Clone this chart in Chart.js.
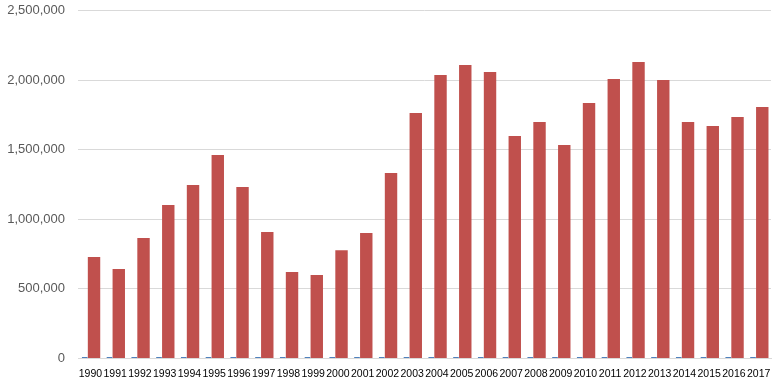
<!DOCTYPE html>
<html>
<head>
<meta charset="utf-8">
<script src="https://cdn.jsdelivr.net/npm/chart.js@4/dist/chart.umd.min.js"></script>
<style>
  html, body { margin: 0; padding: 0; background: #fff; }
  #wrap { width: 775px; height: 384px; }
</style>
</head>
<body>
<div id="wrap"><canvas id="chart"></canvas></div>
<script>
const years = ['1990', '1991', '1992', '1993', '1994', '1995', '1996', '1997', '1998', '1999',
  '2000', '2001', '2002', '2003', '2004', '2005', '2006', '2007', '2008', '2009',
  '2010', '2011', '2012', '2013', '2014', '2015', '2016', '2017'];

const smallSeries = [10000, 10000, 10000, 10000, 10000, 10000, 10000, 10000, 10000, 10000,
  10000, 10000, 10000, 10000, 10000, 10000, 10000, 10000, 10000, 10000,
  10000, 10000, 10000, 10000, 10000, 10000, 10000, 10000];

const mainSeries = [729000, 643000, 866000, 1103000, 1246000, 1462000, 1232000, 909000, 621000, 600000,
  778000, 902000, 1333000, 1764000, 2037000, 2108000, 2058000, 1598000, 1699000, 1534000,
  1835000, 2008000, 2130000, 2001000, 1699000, 1670000, 1735000, 1807000];

const yTicks = [0, 500000, 1000000, 1500000, 2000000, 2500000];

const fmt = v => v.toLocaleString('en-US');

new Chart(document.getElementById('chart').getContext('2d'), {
  type: 'bar',
  data: {
    labels: years,
    datasets: [
      {
        label: 'Series 1',
        data: smallSeries,
        backgroundColor: '#4F81BD',
        categoryPercentage: 0.909,
        barPercentage: 0.5
      },
      {
        label: 'Series 2',
        data: mainSeries,
        backgroundColor: '#C0504D',
        categoryPercentage: 0.59,
        barPercentage: 1.7
      }
    ]
  },
  options: {
    responsive: true,
    maintainAspectRatio: false,
    animation: false,
    layout: { padding: { left: 0, right: 4, top: 10.5, bottom: 0 } },
    plugins: {
      legend: { display: false },
      tooltip: { enabled: false }
    },
    scales: {
      x: {
        grid: { display: false, drawTicks: false },
        border: { display: true, color: '#D9D9D9' },
        ticks: {
          autoSkip: false,
          minRotation: 0,
          maxRotation: 0,
          padding: 9,
          color: '#000',
          font: { family: 'Liberation Sans', size: 10.5 }
        },
        afterFit: s => { s.height = 25.5; s.paddingLeft = 0; s.paddingRight = 0; }
      },
      y: {
        min: 0,
        max: 2500000,
        afterBuildTicks: s => { s.ticks = yTicks.map(v => ({ value: v })); },
        grid: { color: '#D9D9D9', drawTicks: false },
        border: { display: false },
        ticks: {
          padding: 13,
          color: '#595959',
          font: { family: 'Liberation Sans', size: 13 },
          callback: v => fmt(v)
        },
        afterFit: s => { s.width = 78; s.paddingTop = 0; s.paddingBottom = 0; }
      }
    }
  }
});
</script>
</body>
</html>
